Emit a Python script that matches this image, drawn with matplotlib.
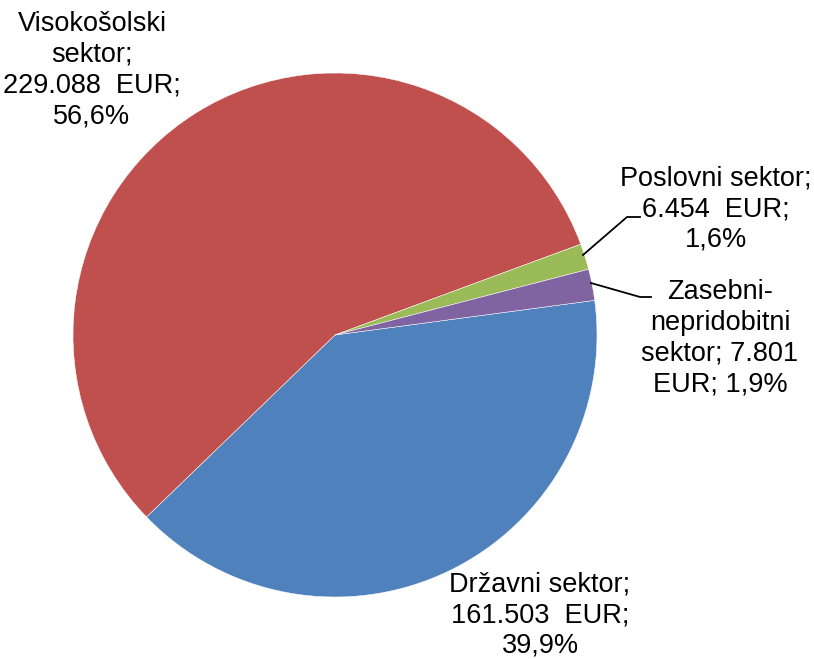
import matplotlib
matplotlib.use("Agg")
import matplotlib.pyplot as plt

categories = ["Državni sektor", "Visokošolski sektor", "Poslovni sektor", "Zasebni-nepridobitni sektor"]
values = [161503, 229088, 6454, 7801]
colors = ["#4F81BD", "#C0504D", "#9BBB59", "#8064A2"]

W, H = 814, 659
fig = plt.figure(figsize=(W / 100, H / 100), dpi=100)
ax = fig.add_axes([0, 0, 1, 1])

def Y(y):
    return H - y

cx, cy, r = 335, 335, 262
ax.pie(values, colors=colors, startangle=7.6, counterclock=False,
       center=(cx, Y(cy)), radius=r, frame=True,
       wedgeprops=dict(edgecolor="white", linewidth=0.35))
ax.set_xlim(0, W)
ax.set_ylim(0, H)
ax.set_aspect("equal")
ax.axis("off")

total = sum(values)
def num(v):
    return f"{v:,}".replace(",", ".")
def pct(v):
    return f"{100 * v / total:.1f}".replace(".", ",") + "%"

labels = [
    f"Državni sektor;\n{num(values[0])}  EUR;\n{pct(values[0])}",
    f"Visokošolski\nsektor;\n{num(values[1])}  EUR;\n{pct(values[1])}",
    f"Poslovni sektor;\n{num(values[2])}  EUR;\n{pct(values[2])}",
    f"Zasebni-\nnepridobitni\nsektor; {num(values[3])}\nEUR; {pct(values[3])}",
]
label_pos = [(540, 615), (92, 70), (716, 209), (720, 338)]

font = dict(family="Liberation Sans", fontsize=19.5, color="black",
            ha="center", va="center", linespacing=1.24)
for lab, (x, y) in zip(labels, label_pos):
    ax.text(x, Y(y), lab, **font)

# leader lines
ax.plot([583, 627, 640], [Y(255), Y(217), Y(217)], color="black", lw=1.3)
ax.plot([591, 640, 651], [Y(283), Y(297), Y(297)], color="black", lw=1.3)

fig.savefig("out.png", dpi=100)
